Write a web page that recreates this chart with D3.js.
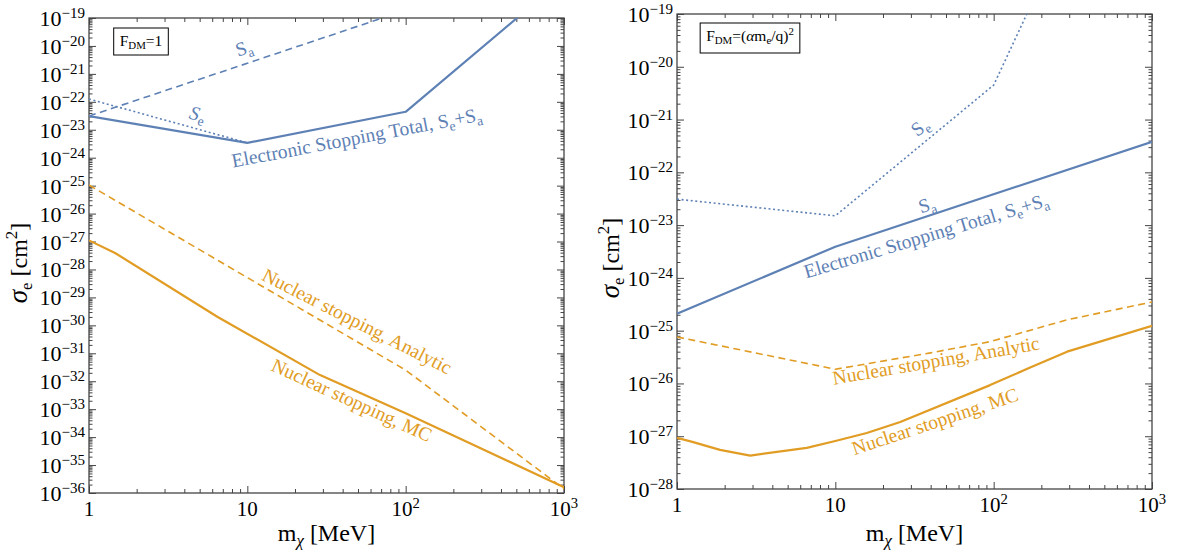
<!DOCTYPE html>
<html><head><meta charset="utf-8">
<script src="https://cdn.jsdelivr.net/npm/d3@7"></script>
<style>
body{margin:0;background:#fff}
svg{display:block}
text{font-family:"Liberation Serif","Times New Roman",serif}
</style>
</head><body>
<svg id="c" width="1178" height="556"></svg>
<script>
// ---------------- DATA ----------------
const massTicks = [1, 10, 100, 1000];
const leftExponents = d3.range(-36, -18);   // 10^-36 .. 10^-19
const rightExponents = d3.range(-28, -18);  // 10^-28 .. 10^-19

// Left panel: F_DM = 1
const leftSaMass = [1, 10, 100];
const leftSaSigma = [3.1e-23, 2.4e-21, 1.9e-19];
const leftSeMass = [1, 10];
const leftSeSigma = [1.26e-22, 3.4e-24];
const leftTotalMass = [1, 10, 100, 505, 1000];
const leftTotalSigma = [3.1e-23, 3.4e-24, 4.4e-23, 1e-19, 3e-18];
const leftAnalyticMass = [1, 100, 1000];
const leftAnalyticSigma = [1.05e-25, 2.5e-32, 1.4e-36];
const leftMCMass = [1, 1.46, 6.5, 28.8, 100, 295, 1000];
const leftMCSigma = [1.1e-27, 3.9e-28, 2.0e-30, 1.66e-32, 7.2e-34, 4.1e-35, 1.6e-36];

// Right panel: F_DM = (alpha m_e / q)^2
const rightSeMass = [1, 10, 100, 162, 200];
const rightSeSigma = [3.1e-23, 1.5e-23, 4.5e-21, 1e-19, 4.3e-19];
const rightTotalMass = [1, 10, 1000];
const rightTotalSigma = [2.1e-25, 3.9e-24, 3.8e-22];
const rightAnalyticMass = [1, 10, 40, 95, 290, 1000];
const rightAnalyticSigma = [7.6e-26, 1.86e-26, 3.8e-26, 6.2e-26, 1.6e-25, 3.5e-25];
const rightMCMass = [1, 1.25, 1.87, 2.9, 6.6, 10, 15.8, 25.7, 95, 170, 291, 1000];
const rightMCSigma = [9.3e-28, 7.8e-28, 5.5e-28, 4.3e-28, 6.0e-28, 8.1e-28, 1.15e-27, 1.86e-27, 9.3e-27, 2.0e-26, 4.0e-26, 1.23e-25];

// Curve labels (anchored in data coordinates)
const leftLabels = [
  {parts:[{t:"S"},{t:"a",sub:1}], m:9.8, s:5.1e-21, a:-18},
  {parts:[{t:"S",it:1},{t:"e",sub:1}], m:4.74, s:2.2e-23, a:15},
  {parts:[{t:"Electronic Stopping Total, S"},{t:"e",sub:1},{t:"+S"},{t:"a",sub:1}], m:50, s:3.1e-24, a:-10.7},
  {parts:[{t:"Nuclear stopping, Analytic"}], m:47.2, s:8.7e-31, a:27, c:"o"},
  {parts:[{t:"Nuclear stopping, MC"}], m:43.9, s:1.29e-33, a:24.6, c:"o"}
];
const rightLabels = [
  {parts:[{t:"S"},{t:"e",sub:1}], m:36.3, s:5.8e-22, a:-38},
  {parts:[{t:"S"},{t:"a",sub:1}], m:39, s:1.86e-23, a:-18},
  {parts:[{t:"Electronic Stopping Total, S"},{t:"e",sub:1},{t:"+S"},{t:"a",sub:1}], m:38.5, s:4.8e-24, a:-16.7},
  {parts:[{t:"Nuclear stopping, Analytic"}], m:43.9, s:2.05e-26, a:-9.7, c:"o"},
  {parts:[{t:"Nuclear stopping, MC"}], m:43.9, s:1.45e-27, a:-18.4, c:"o"}
];

// ---------------- STYLE ----------------
const BLUE = "#5E81B5", ORANGE = "#E19C24", FRAME = "#444";
const svg = d3.select("#c");

function rich(sel, parts, size){
  let off = 0;
  parts.forEach(p=>{
    const fs = p.fs || ((p.sup||p.sub) ? size*0.7 : size);
    const target = p.sup ? -size*0.4 : (p.sub ? size*0.22 : 0);
    const ts = sel.append("tspan").attr("dy", target-off).text(p.t).attr("font-size", fs);
    if(p.it) ts.attr("font-style","italic");
    off = target;
  });
}

function panel(cfg){
  const x = d3.scaleLog().domain([1,1000]).range([cfg.x0,cfg.x1]);
  const y = d3.scaleLog().domain([Math.pow(10,cfg.exps[0]), 1e-19]).range([cfg.y0,cfg.y1]);
  const g = svg.append("g");
  const id = "clip"+cfg.id;
  svg.append("clipPath").attr("id",id).append("rect")
    .attr("x",cfg.x0).attr("y",cfg.y1).attr("width",cfg.x1-cfg.x0).attr("height",cfg.y0-cfg.y1);

  const xMinor = [];
  [1,10,100].forEach(d=>{for(let k=2;k<10;k++) xMinor.push(d*k);});
  const yMinor = [];
  cfg.exps.slice(0,-1).forEach(e=>{for(let k=2;k<10;k++) yMinor.push(k*Math.pow(10,e));});
  const yMajor = cfg.exps.map(e=>Math.pow(10,e));

  function axisStyle(sel){ sel.select(".domain").remove(); sel.selectAll("line").attr("stroke",FRAME).attr("stroke-width",1); sel.selectAll("text").remove(); }
  g.append("g").attr("transform",`translate(0,${cfg.y0})`).call(d3.axisBottom(x).tickValues(massTicks).tickSize(-7).tickFormat("")).call(axisStyle);
  g.append("g").attr("transform",`translate(0,${cfg.y0})`).call(d3.axisBottom(x).tickValues(xMinor).tickSize(-4).tickFormat("")).call(axisStyle);
  g.append("g").attr("transform",`translate(0,${cfg.y1})`).call(d3.axisTop(x).tickValues(massTicks).tickSize(-7).tickFormat("")).call(axisStyle);
  g.append("g").attr("transform",`translate(0,${cfg.y1})`).call(d3.axisTop(x).tickValues(xMinor).tickSize(-4).tickFormat("")).call(axisStyle);
  g.append("g").attr("transform",`translate(${cfg.x0},0)`).call(d3.axisLeft(y).tickValues(yMajor).tickSize(-7).tickFormat("")).call(axisStyle);
  g.append("g").attr("transform",`translate(${cfg.x0},0)`).call(d3.axisLeft(y).tickValues(yMinor).tickSize(-3.5).tickFormat("")).call(axisStyle);
  g.append("g").attr("transform",`translate(${cfg.x1},0)`).call(d3.axisRight(y).tickValues(yMajor).tickSize(-7).tickFormat("")).call(axisStyle);
  g.append("g").attr("transform",`translate(${cfg.x1},0)`).call(d3.axisRight(y).tickValues(yMinor).tickSize(-3.5).tickFormat("")).call(axisStyle);

  g.append("rect").attr("x",cfg.x0).attr("y",cfg.y1).attr("width",cfg.x1-cfg.x0).attr("height",cfg.y0-cfg.y1)
    .attr("fill","none").attr("stroke",FRAME).attr("stroke-width",1.3);

  // tick labels
  cfg.exps.forEach(e=>{
    const t = g.append("text").attr("x",cfg.x0-4).attr("y",y(Math.pow(10,e))+8)
      .attr("text-anchor","end").attr("fill","#000");
    rich(t,[{t:"10",fs:22},{t:"\u2212"+Math.abs(e),sup:1,fs:15}],20);
  });
  massTicks.forEach(m=>{
    const e = Math.round(Math.log10(m));
    const t = g.append("text").attr("x",x(m)).attr("y",cfg.y0+23).attr("text-anchor","middle").attr("font-size",21);
    if(e<2) t.text(String(m)); else rich(t,[{t:"10"},{t:String(e),sup:1}],21);
  });

  // axis titles
  const xt = g.append("text").attr("x",(cfg.x0+cfg.x1)/2).attr("y",541).attr("text-anchor","middle").attr("font-size",24);
  rich(xt,[{t:"m"},{t:"\u03c7",sub:1,it:1},{t:" [MeV]"}],24);
  const yt = g.append("text").attr("transform",`translate(${cfg.ytx},${cfg.yty}) rotate(-90)`).attr("text-anchor","middle").attr("font-size",24);
  rich(yt,[{t:"\u03c3",it:1,fs:27},{t:"e",sub:1},{t:" [cm"},{t:"2",sup:1},{t:"]"}],24);

  // curves
  const line = d3.line().x(d=>x(d[0])).y(d=>y(d[1]));
  const plot = g.append("g").attr("clip-path",`url(#${id})`);
  cfg.series.forEach(s=>{
    plot.append("path").attr("d",line(d3.zip(s.m,s.s))).attr("fill","none")
      .attr("stroke",s.c).attr("stroke-width",s.w).attr("stroke-dasharray",s.dash||null)
      .attr("stroke-linejoin","round");
  });

  // labels
  cfg.labels.forEach(l=>{
    const t = g.append("text").attr("transform",`translate(${x(l.m)},${y(l.s)}) rotate(${l.a})`)
      .attr("text-anchor","middle").attr("fill",l.c==="o"?ORANGE:BLUE);
    rich(t,l.parts,19.5);
  });

  // legend box
  const lg = g.append("g");
  const lt = lg.append("text").attr("x",cfg.lgx).attr("y",cfg.lgy).attr("text-anchor","middle");
  rich(lt,cfg.legend,15.5);
  const bb = lt.node().getBBox();
  lg.insert("rect","text").attr("x",bb.x-6).attr("y",cfg.lgy-18).attr("width",bb.width+12).attr("height",cfg.lgh)
    .attr("fill","#fff").attr("stroke","#000").attr("stroke-width",1);
}

panel({id:"L", x0:89, x1:564, y0:493, y1:18, exps:leftExponents, ytx:27, yty:263,
  lgx:141, lgy:46, lgh:27,
  legend:[{t:"F"},{t:"DM",sub:1},{t:"=1"}],
  series:[
    {m:leftSaMass, s:leftSaSigma, c:BLUE, w:1.6, dash:"7,4.5"},
    {m:leftSeMass, s:leftSeSigma, c:BLUE, w:1.6, dash:"2,2.6"},
    {m:leftTotalMass, s:leftTotalSigma, c:BLUE, w:2.2},
    {m:leftAnalyticMass, s:leftAnalyticSigma, c:ORANGE, w:1.6, dash:"7,4.5"},
    {m:leftMCMass, s:leftMCSigma, c:ORANGE, w:2.2}
  ],
  labels:leftLabels});

panel({id:"R", x0:677, x1:1152, y0:489, y1:14, exps:rightExponents, ytx:619, yty:258,
  lgx:750, lgy:41, lgh:30,
  legend:[{t:"F"},{t:"DM",sub:1},{t:"=("},{t:"\u03b1",it:1},{t:"m"},{t:"e",sub:1},{t:"/q)"},{t:"2",sup:1}],
  series:[
    {m:rightSeMass, s:rightSeSigma, c:BLUE, w:1.6, dash:"2,2.6"},
    {m:rightTotalMass, s:rightTotalSigma, c:BLUE, w:2.2},
    {m:rightAnalyticMass, s:rightAnalyticSigma, c:ORANGE, w:1.6, dash:"7,4.5"},
    {m:rightMCMass, s:rightMCSigma, c:ORANGE, w:2.2}
  ],
  labels:rightLabels});
</script>
</body></html>
